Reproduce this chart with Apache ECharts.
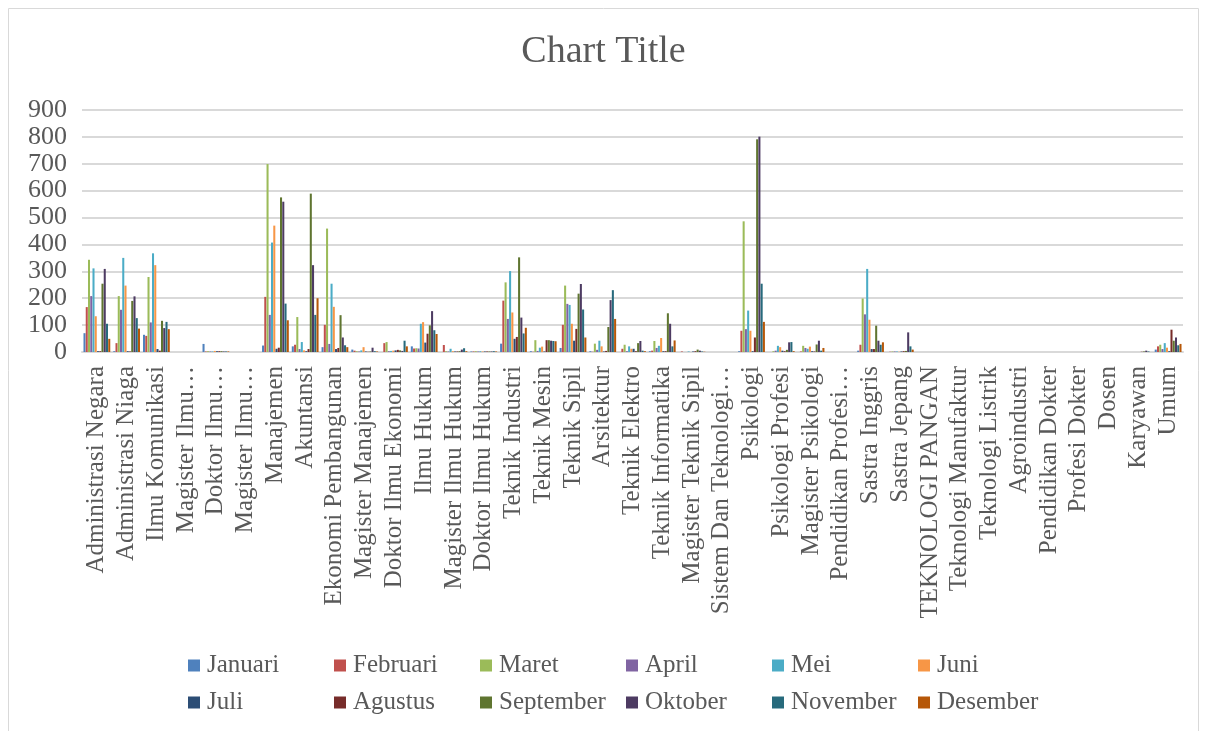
<!DOCTYPE html>
<html>
<head>
<meta charset="utf-8">
<script src="https://cdn.jsdelivr.net/npm/echarts@6/dist/echarts.min.js"></script>
<style>html,body{margin:0;padding:0;background:#fff}#c{width:1207px;height:731px}</style>
</head>
<body>
<div id="c"></div>
<script>
const categories = ["Administrasi Negara","Administrasi Niaga","Ilmu Komunikasi","Magister Ilmu…","Doktor Ilmu…","Magister Ilmu…","Manajemen","Akuntansi","Ekonomi Pembangunan","Magister Manajemen","Doktor Ilmu Ekonomi","Ilmu Hukum","Magister Ilmu Hukum","Doktor Ilmu Hukum","Teknik Industri","Teknik Mesin","Teknik Sipil","Arsitektur","Teknik Elektro","Teknik Informatika","Magister Teknik Sipil","Sistem Dan Teknologi…","Psikologi","Psikologi Profesi","Magister Psikologi","Pendidikan Profesi…","Sastra Inggris","Sastra Jepang","TEKNOLOGI PANGAN","Teknologi Manufaktur","Teknologi Listrik","Agroindustri","Pendidikan Dokter","Profesi Dokter","Dosen","Karyawan","Umum"];
const months = ["Januari","Februari","Maret","April","Mei","Juni","Juli","Agustus","September","Oktober","November","Desember"];
const januari   = [70,3,64,0,30,0,24,21,18,9,0,21,0,2,31,3,15,3,0,3,0,0,3,0,0,0,5,0,0,0,0,0,0,0,0,0,9];
const februari  = [167,33,60,0,2,0,205,27,101,5,33,13,26,2,191,1,101,1,12,5,2,0,79,0,2,0,27,1,0,0,0,0,0,0,0,0,21];
const maret     = [343,208,279,0,3,0,699,130,459,3,37,14,3,3,259,44,247,31,27,41,0,0,486,3,23,0,199,2,0,0,0,0,0,0,0,0,27];
const april     = [208,157,110,0,2,0,138,11,30,2,3,13,2,2,123,4,179,8,3,15,0,0,85,5,15,0,140,2,0,0,0,0,0,0,0,0,11];
const mei       = [311,350,367,0,2,0,407,37,254,6,4,105,12,3,301,16,175,42,21,23,2,0,154,23,12,0,309,2,0,0,0,0,0,0,0,0,33];
const juni      = [133,247,323,0,4,0,470,6,168,18,5,111,3,2,147,20,105,21,12,52,0,0,79,18,20,0,120,1,0,0,0,0,0,0,0,0,16];
const juli      = [3,3,11,0,3,0,12,3,11,2,6,35,2,2,49,2,42,2,12,3,2,0,3,5,3,0,11,2,0,0,0,0,0,0,0,0,3];
const agustus   = [3,2,5,0,3,0,16,11,15,1,8,68,2,2,56,44,86,4,3,3,3,0,54,3,2,0,11,3,0,0,0,0,0,0,0,1,83];
const september = [254,190,116,0,3,0,575,589,137,2,6,99,3,2,352,44,217,93,33,144,9,0,791,8,28,0,98,4,0,0,0,0,0,0,0,2,42];
const oktober   = [309,207,89,0,2,0,559,323,54,16,4,152,9,2,128,42,253,193,41,105,5,0,801,36,42,0,42,73,0,0,0,0,0,0,0,5,54];
const november  = [105,126,112,0,2,0,180,138,25,3,42,81,14,3,69,41,158,230,5,21,2,0,254,37,5,0,27,21,0,0,0,0,0,0,0,2,25];
const desember  = [49,87,85,0,2,0,118,200,18,2,21,67,3,2,90,40,54,123,3,43,1,0,112,3,15,0,36,9,0,0,0,0,0,0,0,0,30];
const yTicks = [0,100,200,300,400,500,600,700,800,900];

const seriesValues = [januari,februari,maret,april,mei,juni,juli,agustus,september,oktober,november,desember];
const colors = ['#4F81BD','#C0504D','#9BBB59','#8064A2','#4BACC6','#F79646','#2C4D75','#772C2A','#5F7530','#4D3B62','#276A7C','#B65708'];
const FONT = 'Liberation Serif';
const TXT = '#595959';

const chart = echarts.init(document.getElementById('c'), null, {renderer:'canvas'});
const legends = months.map((m,i)=>({
  data:[m], left: 183 + (i%6)*146, top: i<6 ? 648 : 685,
  itemWidth: 12, itemHeight: 12, icon: 'rect', itemGap: 0,
  textStyle:{fontFamily:FONT, fontSize:25, color:TXT, padding:[0,0,0,2]},
  selectedMode:false
}));
chart.setOption({
  animation:false,
  color: colors,
  graphic:[{type:'rect', shape:{x:8.5,y:8.5,width:1190,height:740}, style:{fill:'none', stroke:'#D9D9D9', lineWidth:1}}],
  title:{text:'Chart Title', left:'center', top:28, textStyle:{fontFamily:FONT, fontSize:38, fontWeight:'normal', color:TXT}},
  legend: legends,
  grid:{left:82, right:24, top:110, bottom:379, containLabel:false},
  xAxis:{type:'category', data:categories,
    axisLine:{show:true, lineStyle:{color:'#D9D9D9', width:2}},
    axisTick:{show:false},
    axisLabel:{interval:0, rotate:90, margin:14, fontFamily:FONT, fontSize:25, color:TXT}},
  yAxis:{type:'value', min:yTicks[0], max:yTicks[yTicks.length-1], interval:100,
    axisLine:{show:false}, axisTick:{show:false},
    splitLine:{lineStyle:{color:'#D9D9D9', width:2}},
    axisLabel:{margin:15, fontFamily:FONT, fontSize:26, color:TXT}},
  series: months.map((m,i)=>({name:m, type:'bar', data:seriesValues[i], barGap:'10%', barCategoryGap:'10%'}))
});
</script>
</body>
</html>
